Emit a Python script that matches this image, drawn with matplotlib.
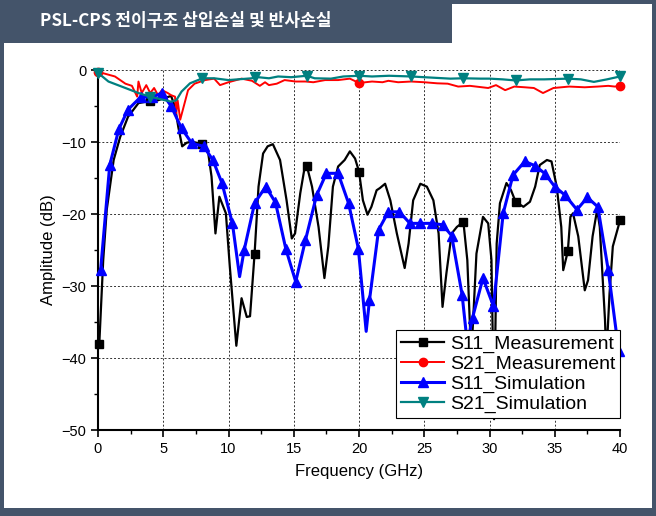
import matplotlib
matplotlib.use('Agg')
import matplotlib.pyplot as plt
from matplotlib.patches import Rectangle
from matplotlib.ticker import MultipleLocator

plt.rcParams['font.family'] = ['Liberation Sans', 'DejaVu Sans']

# S11 measurement (black, squares every 4 GHz)
s11_meas_f = [0.1, 0.4, 0.67, 1.2, 1.7, 2.3, 3.1, 4.0, 4.6, 5.6, 5.9, 6.15, 6.45, 6.8, 7.2,
              8.0, 8.45, 8.7, 9.0, 9.3, 9.8, 10.1, 10.6, 11.0, 11.4, 11.65, 12.0, 12.3,
              12.65, 13.0, 13.4, 13.95, 14.45, 14.85, 15.1, 15.5, 15.8, 16.0, 16.4, 16.9,
              17.35, 17.65, 18.0, 18.4, 18.9, 19.3, 19.7, 20.0, 20.3, 20.65, 20.95, 21.35,
              21.6, 22.0, 22.4, 22.9, 23.5, 23.8, 24.15, 24.7, 25.2, 25.7, 26.1, 26.4,
              26.7, 27.1, 27.5, 28.0, 28.3, 28.6, 29.0, 29.5, 29.9, 30.15, 30.35, 30.55,
              30.8, 31.3, 31.65, 32.0, 32.6, 33.1, 33.5, 33.85, 34.4, 34.75, 35.15, 35.5,
              35.65, 36.0, 36.2, 36.4, 36.8, 37.3, 37.55, 37.9, 38.25, 38.45, 38.85,
              38.95, 39.2, 39.45, 40.0]
s11_meas_db = [-38.0, -26.4, -19.4, -12.5, -9.3, -6.5, -4.6, -4.3, -4.2, -3.6, -5.1, -7.9,
               -10.6, -10.1, -9.95, -10.3, -11.6, -14.8, -22.7, -17.6, -19.9, -27.3, -38.3,
               -31.7, -34.3, -34.2, -25.5, -16.2, -11.6, -10.6, -10.3, -12.5, -18.1, -23.4,
               -22.7, -17.1, -13.9, -13.3, -16.2, -21.8, -28.9, -24.5, -16.2, -13.4, -12.5,
               -11.3, -12.3, -14.1, -18.1, -20.1, -19.0, -16.7, -16.4, -15.8, -18.1, -22.7,
               -27.5, -24.1, -18.1, -15.8, -16.2, -18.1, -22.7, -32.9, -28.2, -22.7, -21.8,
               -21.1, -26.4, -40.0, -25.5, -20.4, -21.3, -26.4, -48.5, -24.1, -18.5, -15.7,
               -16.7, -18.3, -19.0, -18.3, -16.2, -13.2, -12.5, -12.7, -16.2, -21.8, -27.8,
               -25.2, -20.4, -19.9, -23.1, -30.6, -29.2, -23.1, -19.4, -21.8, -34.7, -40.0,
               -31.0, -24.5, -20.9]
s11_meas_marks = [0.1, 4, 8, 12, 16, 20, 24, 28, 32, 36, 40]

# S21 measurement (red)
s21_meas_f = [0, 0.5, 1.3, 2.1, 2.6, 3.0, 3.1, 3.35, 3.7, 4.0, 4.3, 4.6, 4.9, 5.35, 5.6,
              5.9, 6.0, 6.1, 6.3, 6.9, 7.4, 8.2, 8.9, 9.35, 10.0, 11.0, 11.8, 12.4, 12.8,
              13.1, 13.7, 14.3, 15.15, 15.9, 16.5, 17.4, 18.4, 19.3, 20.0, 21.0, 21.8,
              22.25, 23.0, 24.0, 25.0, 26.0, 26.8, 27.6, 28.5, 29.9, 30.5, 31.2, 31.9, 32.7,
              33.4, 34.1, 34.9, 36.1, 37.3, 38.3, 39.1, 39.6, 40.0]
s21_meas_db = [-0.3, -0.5, -0.9, -1.9, -2.2, -3.7, -1.6, -3.2, -2.1, -3.2, -2.5, -3.5, -2.8,
               -3.2, -3.5, -3.7, -6.0, -4.2, -6.9, -2.8, -1.9, -1.4, -1.2, -2.1, -1.7, -1.2,
               -1.5, -2.2, -1.7, -2.1, -1.9, -1.4, -1.6, -1.6, -1.7, -1.4, -1.4, -1.2, -1.8,
               -1.6, -1.7, -1.5, -1.7, -1.6, -1.7, -1.85, -1.9, -2.3, -2.2, -2.5, -2.1, -2.8,
               -2.3, -2.4, -2.5, -3.2, -2.5, -2.3, -2.4, -2.3, -2.2, -2.3, -2.2]
s21_meas_marks = [0, 20, 40]

# S11 simulation (blue)
s11_sim_f = [0.2, 0.9, 1.6, 2.3, 3.3, 4.1, 4.9, 5.6, 6.4, 7.2, 8.1, 8.8, 9.5, 10.3, 10.85,
             11.2, 12.0, 12.85, 13.6, 14.4, 15.15, 15.9, 16.75, 17.5, 18.4, 19.2, 19.95,
             20.55, 20.8, 21.5, 22.25, 23.1, 23.9, 24.7, 25.6, 26.4, 27.1, 27.9, 28.3,
             28.7, 29.5, 30.3, 31.05, 31.8, 32.7, 33.5, 34.25, 35.0, 35.8, 36.7, 37.5,
             38.3, 39.1, 39.9]
s11_sim_db = [-27.8, -13.2, -8.2, -5.5, -3.7, -3.8, -3.2, -5.0, -8.1, -10.2, -10.6, -12.5,
              -15.7, -21.3, -28.7, -25.0, -18.5, -16.2, -18.4, -24.9, -29.4, -23.6, -17.4,
              -14.35, -14.35, -18.5, -24.8, -36.3, -32.0, -22.2, -19.7, -19.7, -21.3, -21.3,
              -21.3, -21.5, -23.0, -31.2, -38.0, -34.4, -28.9, -32.8, -19.9, -14.6, -12.7,
              -13.3, -14.4, -16.2, -17.4, -19.4, -17.7, -19.0, -27.8, -39.0]
s11_sim_dips = [10.85, 20.55, 28.3]

# S21 simulation (teal)
s21_sim_f = [0, 0.8, 2.1, 3.1, 4.0, 4.9, 5.6, 6.0, 6.4, 7.05, 8.0, 8.9, 10.0, 10.7, 11.8,
             12.0, 13.1, 13.8, 14.8, 16.0, 16.6, 17.85, 18.8, 20.0, 21.0, 22.3, 24.0, 25.0,
             26.0, 27.0, 28.0, 29.3, 30.0, 31.0, 32.0, 33.1, 34.2, 36.0, 37.0, 38.0, 39.0,
             40.0]
s21_sim_db = [-0.4, -1.6, -2.5, -3.2, -3.7, -4.1, -4.4, -4.2, -3.0, -1.85, -1.15, -1.15,
              -1.4, -1.3, -1.15, -0.95, -1.15, -0.9, -1.0, -0.8, -1.15, -1.2, -0.9, -0.8,
              -0.9, -0.8, -0.9, -1.0, -1.1, -1.2, -1.15, -1.2, -1.2, -1.3, -1.45, -1.3,
              -1.3, -1.2, -1.3, -1.65, -1.3, -0.9]
s21_sim_marks = [0, 4, 8, 12, 16, 20, 24, 28, 32, 36, 40]


def markIndices(freqs, wanted):
    return [i for i, f in enumerate(freqs) if any(abs(f - w) < 0.05 for w in wanted)]


frame = '#44546a'
fig = plt.figure(figsize=(6.56, 5.16), dpi=100)

# frame and title banner
W, H = 656.0, 516.0
for (x0, y0, w, h) in [(0, 0, 4, 516), (652, 0, 4, 516), (0, 0, 656, 8), (0, 512, 656, 4),
                       (0, 473, 452, 43)]:
    fig.patches.append(Rectangle((x0 / W, y0 / H), w / W, h / H, transform=fig.transFigure,
                                 facecolor=frame, edgecolor='none', zorder=0))
fig.text(40 / W, 1 - 21 / H, 'PSL-CPS 전이구조 삽입손실 및 반사손실', color='white',
         fontsize=12.3, fontweight='bold', va='center', ha='left',
         family=['Noto Sans CJK KR', 'DejaVu Sans'])

ax = fig.add_axes([98 / W, 1 - 430 / H, 522 / W, 360 / H])

ax.plot(s11_meas_f, s11_meas_db, color='black', lw=1.6, marker='s', ms=5.5,
        markevery=markIndices(s11_meas_f, s11_meas_marks),
        label='S11_Measurement', clip_on=False, zorder=3)
ax.plot(s21_meas_f, s21_meas_db, color='#ff0000', lw=1.4, marker='o', ms=6,
        markevery=markIndices(s21_meas_f, s21_meas_marks),
        label='S21_Measurement', clip_on=False, zorder=3)
blue_marks = [i for i, f in enumerate(s11_sim_f) if f not in s11_sim_dips]
ax.plot(s11_sim_f, s11_sim_db, color='#0000ff', lw=2.2, marker='^', ms=7,
        markevery=blue_marks, label='S11_Simulation', clip_on=False, zorder=4)
ax.plot(s21_sim_f, s21_sim_db, color='#008080', lw=1.6, marker='v', ms=7,
        markevery=markIndices(s21_sim_f, s21_sim_marks),
        label='S21_Simulation', clip_on=False, zorder=4)

ax.set_xlim(0, 40)
ax.set_ylim(-50, 0)
ax.xaxis.set_major_locator(MultipleLocator(5))
ax.xaxis.set_minor_locator(MultipleLocator(2.5))
ax.yaxis.set_major_locator(MultipleLocator(10))
ax.yaxis.set_minor_locator(MultipleLocator(5))
ax.grid(True, which='major', color='#333333', linestyle=(0, (2, 2)), linewidth=0.7)
ax.spines['top'].set_visible(False)
ax.spines['right'].set_visible(False)
ax.spines['left'].set_linewidth(1.5)
ax.spines['bottom'].set_linewidth(1.5)
ax.tick_params(which='major', direction='out', length=5, width=1.2, labelsize=10.5)
ax.tick_params(which='minor', direction='out', length=3, width=1.0)
ax.set_xlabel('Frequency (GHz)', fontsize=12, labelpad=6)
ax.set_ylabel('Amplitude (dB)', fontsize=12, labelpad=4)

leg = ax.legend(loc='lower right', bbox_to_anchor=(1.0, 0.033), fontsize=14,
                frameon=True, fancybox=False, edgecolor='black', framealpha=1,
                labelspacing=0.12, handlelength=2.2, handletextpad=0.3,
                borderpad=0.25, borderaxespad=0)
leg.get_frame().set_linewidth(0.8)

fig.savefig('out.png', dpi=100)
